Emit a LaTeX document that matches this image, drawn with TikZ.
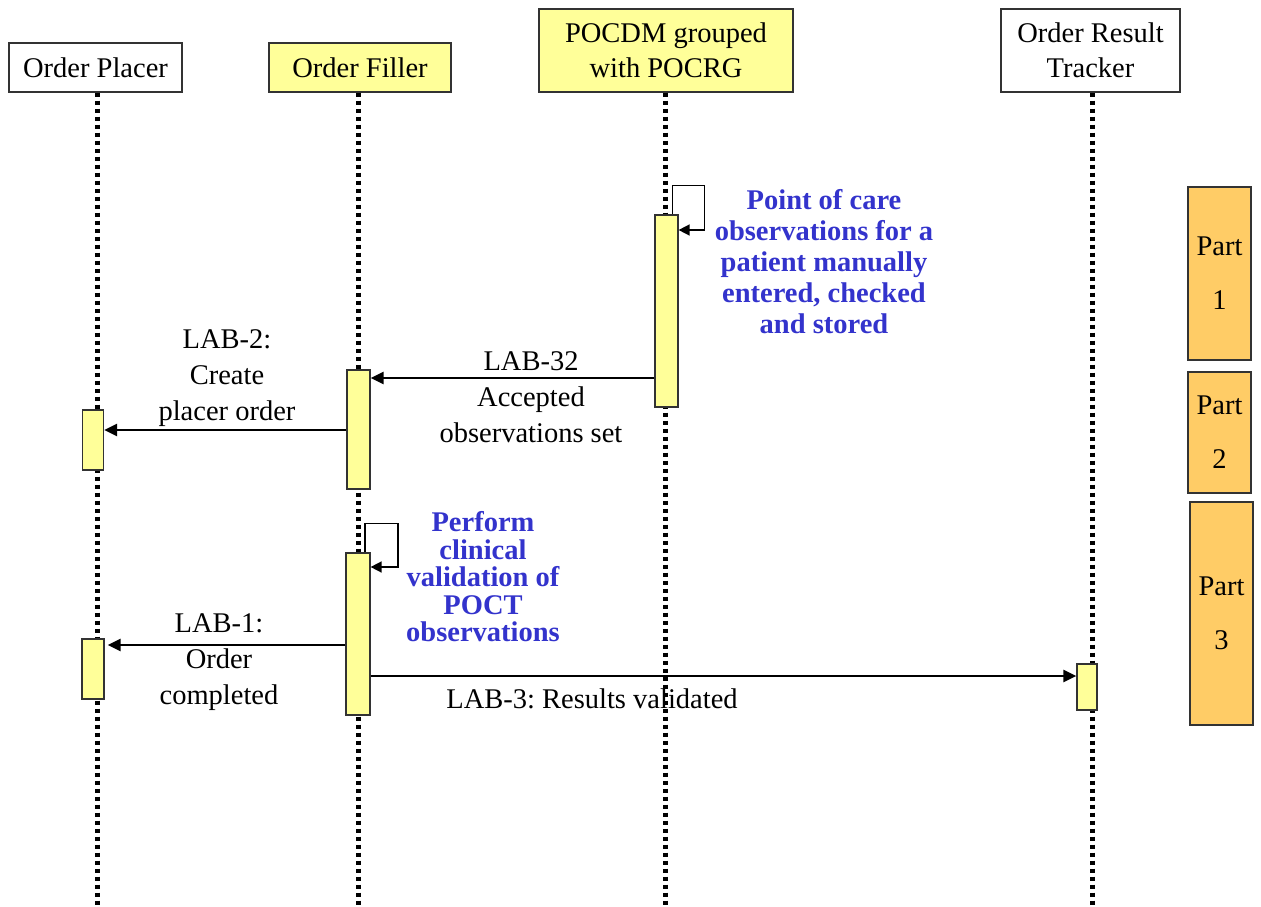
\documentclass[tikz,border=0pt]{standalone}
\usepackage{fontspec}
\setmainfont{Liberation Serif}
\usetikzlibrary{arrows.meta}
\frenchspacing

\definecolor{hdrborder}{HTML}{333333}
\definecolor{actyellow}{HTML}{FFFF99}
\definecolor{partorange}{HTML}{FFCC66}
\definecolor{notebl}{HTML}{3333CC}

\tikzset{
  header/.style={draw=hdrborder, line width=1.2pt, inner sep=0pt, align=center,
                 font=\fontsize{28.5}{35}\selectfont},
  actor/.style={header, fill=white},
  system/.style={header, fill=actyellow},
  lifeline/.style={line width=5pt, dash pattern=on 4.5pt off 3.5pt},
  activation/.style={draw=hdrborder, line width=1.2pt, fill=actyellow, inner sep=0pt},
  partbox/.style={draw=hdrborder, line width=1.2pt, fill=partorange, inner sep=0pt,
                  align=center, font=\fontsize{28.5}{54}\selectfont},
  msg/.style={line width=2.5pt, -{Triangle[length=13pt,width=12pt]}},
  selfmsg/.style={line width=1.5pt, -{Triangle[length=11pt,width=11pt]}},
  msglabel/.style={align=center, inner sep=0pt, font=\fontsize{28.5}{36}\selectfont},
  note/.style={align=center, inner sep=0pt, text=notebl},
}

\begin{document}
\begin{tikzpicture}[x=1pt, y=-1pt]
\useasboundingbox (0,0) rectangle (1261,907);

% participants
\node[actor,  minimum width=173pt, minimum height=49pt] (op)  at (95.5,67.5) {Order Placer};
\node[system, minimum width=182pt, minimum height=49pt] (of)  at (360,67.5)  {Order Filler};
\node[system, minimum width=254pt, minimum height=83pt] (pd)  at (666,50.5)  {POCDM grouped\\with POCRG};
\node[actor,  minimum width=179pt, minimum height=83pt] (ort) at (1090.5,50.5) {Order Result\\Tracker};

% lifeline ends
\coordinate (opEnd)  at (97,907);
\coordinate (ofEnd)  at (358,907);
\coordinate (pdEnd)  at (665,907);
\coordinate (ortEnd) at (1092,907);

\draw[lifeline] (opEnd |- op.south)  -- (opEnd);
\draw[lifeline] (ofEnd |- of.south)  -- (ofEnd);
\draw[lifeline] (pdEnd |- pd.south)  -- (pdEnd);
\draw[lifeline] (ortEnd |- ort.south) -- (ortEnd);

% activation bars
\node[activation, minimum width=23pt, minimum height=192pt] (pa)   at (666.5,311) {};
\node[activation, minimum width=23pt, minimum height=119pt] (fa1)  at (358.5,429.5) {};
\node[activation, minimum width=21pt, minimum height=60pt]  (pla1) at (93,440) {};
\node[activation, minimum width=24pt, minimum height=162pt] (fa2)  at (358,634) {};
\node[activation, minimum width=22pt, minimum height=60pt]  (pla2) at (93,669) {};
\node[activation, minimum width=20pt, minimum height=46pt]  (ta)   at (1087,687) {};

% message levels
\coordinate (yA) at (0,378);
\coordinate (yB) at (0,430);
\coordinate (yC) at (0,645);
\coordinate (yD) at (0,676);
\coordinate (yS1) at (0,230);
\coordinate (yS2) at (0,567);

% self messages
\draw[selfmsg] ([xshift=6pt]pa.north) -- ++(0,-29) -- ++(32,0) |- (pa.east |- yS1);
\draw[selfmsg] ([xshift=7pt]fa2.north) -- ++(0,-29) -- ++(33,0) |- (fa2.east |- yS2);

% messages
\draw[msg] (pa.west |- yA)  -- (fa1.east |- yA);
\draw[msg] (fa1.west |- yB) -- (pla1.east |- yB);
\draw[msg, shorten >=3pt] (fa2.west |- yC) -- (pla2.east |- yC);
\draw[msg] (fa2.east |- yD) -- (ta.west |- yD);

% message labels
\node[msglabel] (l2)  at (227,378) {LAB-2:\\Create\\placer order};
\node[msglabel] (l32) at (531,397) {LAB-32\\Accepted\\observations set};
\node[msglabel] (l1)  at (219,662) {LAB-1:\\Order\\completed};
\node[msglabel] (l3)  at (592,699) {LAB-3: Results validated};

% notes
\node[note, font=\fontsize{28.5}{31}\selectfont\bfseries] (n1) at (824,262)
  {Point of care\\observations for a\\patient manually\\entered, checked\\and stored};
\node[note, font=\fontsize{28.5}{27.5}\selectfont\bfseries] (n2) at (483,577)
  {Perform\\clinical\\validation of\\POCT\\observations};

% phase markers
\node[partbox, minimum width=63pt, minimum height=173pt] (p1) at (1219.5,273.5) {Part\\1};
\node[partbox, minimum width=63pt, minimum height=121pt] (p2) at (1219.5,432.5) {Part\\2};
\node[partbox, minimum width=63pt, minimum height=223pt] (p3) at (1221.5,613.5) {Part\\3};
\end{tikzpicture}
\end{document}
